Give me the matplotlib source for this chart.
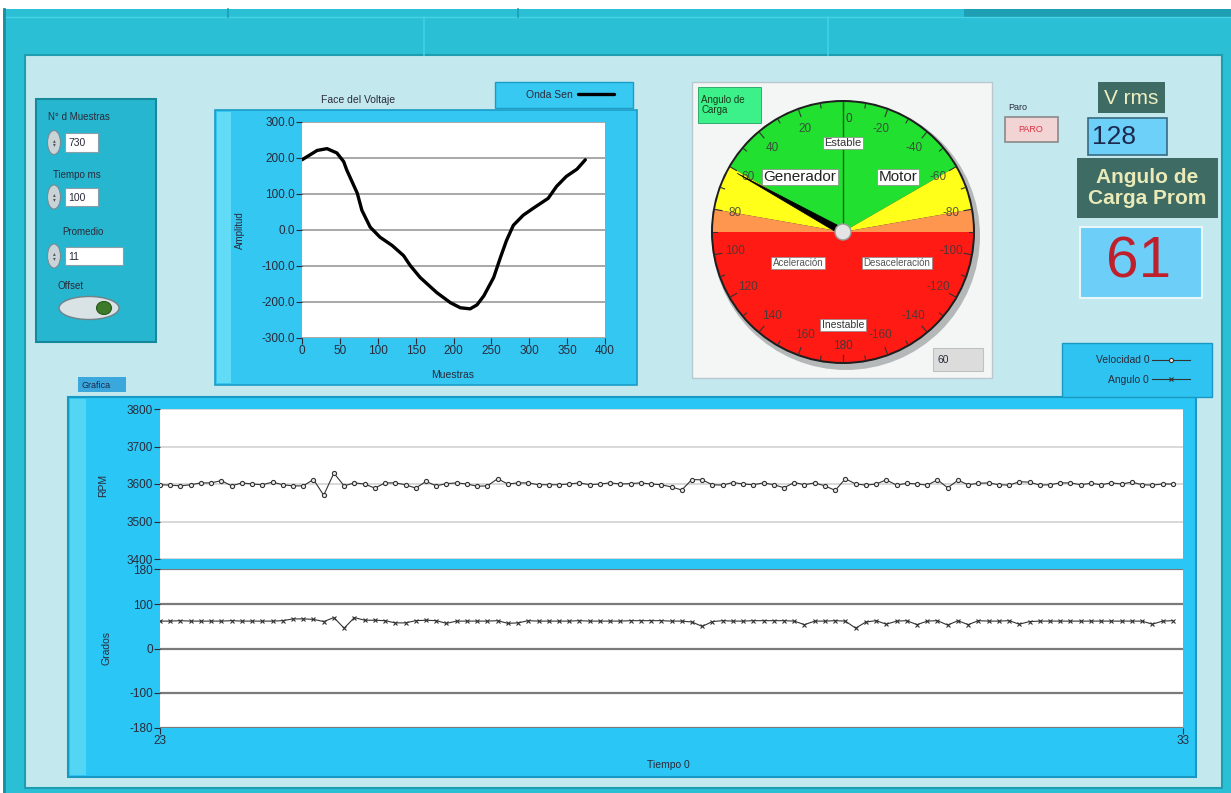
import numpy as np
import matplotlib
matplotlib.use("Agg")
import matplotlib.pyplot as plt
from matplotlib.patches import Rectangle, Wedge, Circle, Ellipse, Polygon

# ==========================================
# DATOS LEIDOS DEL PANEL
# ==========================================
# Fase del voltaje (Onda Sen)
muestras = [0, 20, 33, 46, 55, 59, 73, 79, 90, 103, 119, 134, 143, 156, 178, 196,
            209, 222, 231, 240, 253, 262, 270, 279, 292, 305, 325, 336, 349, 363, 374]
amplitud = [195, 221, 226, 214, 190, 167, 102, 55, 8, -20, -43, -71, -99, -132, -174, -202,
            -216, -219, -208, -183, -132, -76, -29, 13, 41, 60, 88, 121, 149, 169, 195]

# Grafica inferior: velocidad (RPM) y angulo (grados), un punto cada 0.1 s desde t=23
t_inicio = 23
dt = 0.1
velocidad = [3598, 3597, 3595, 3598, 3603, 3603, 3609, 3595, 3603, 3600,
             3598, 3605, 3598, 3595, 3595, 3612, 3570, 3629, 3595, 3603,
             3600, 3589, 3603, 3603, 3598, 3589, 3607, 3595, 3601, 3603,
             3600, 3594, 3595, 3614, 3600, 3603, 3603, 3598, 3598, 3598,
             3600, 3603, 3598, 3600, 3603, 3600, 3601, 3603, 3600, 3598,
             3592, 3584, 3612, 3611, 3598, 3597, 3604, 3600, 3598, 3603,
             3598, 3590, 3604, 3598, 3603, 3595, 3583, 3614, 3600, 3597,
             3600, 3611, 3597, 3602, 3600, 3597, 3611, 3590, 3610, 3598,
             3602, 3603, 3598, 3597, 3606, 3605, 3597, 3598, 3603, 3603,
             3598, 3602, 3598, 3603, 3600, 3605, 3598, 3597, 3600, 3600]
angulo = [62, 62, 63, 62, 62, 62, 62, 63, 62, 62,
          62, 62, 63, 67, 67, 66, 61, 70, 46, 70,
          64, 64, 63, 58, 58, 63, 64, 63, 57, 62,
          62, 62, 62, 63, 57, 58, 63, 62, 62, 62,
          62, 63, 62, 62, 62, 62, 63, 63, 63, 63,
          62, 62, 60, 50, 61, 63, 62, 62, 63, 63,
          63, 63, 62, 54, 62, 62, 63, 62, 46, 60,
          63, 55, 62, 63, 54, 62, 63, 53, 63, 54,
          63, 62, 62, 63, 55, 61, 62, 62, 62, 62,
          62, 62, 62, 62, 62, 62, 62, 55, 62, 63]

# Indicadores
angulo_carga = 61
angulo_display = 60
v_rms = 128
angulo_prom = 61
n_muestras = 730
tiempo_ms = 100
promedio = 11

gauge_izq = [20, 40, 60, 80, 100, 120, 140, 160]
gauge_der = [-20, -40, -60, -80, -100, -120, -140, -160]

# ==========================================
# FIGURA Y FONDO (coordenadas en pixeles)
# ==========================================
W, H = 1231, 793
plt.rcParams['font.family'] = ['Liberation Sans', 'DejaVu Sans']
plt.rcParams['axes.unicode_minus'] = False
NARROW = ['Liberation Sans Narrow', 'Liberation Sans', 'DejaVu Sans']
TXT = '#2a2a3a'

fig = plt.figure(figsize=(W / 100, H / 100), dpi=100)
fig.patch.set_facecolor('white')
bg = fig.add_axes([0, 0, 1, 1])
bg.set_xlim(0, W)
bg.set_ylim(H, 0)
bg.axis('off')


def caja(x0, y0, x1, y1, fc, ec='none', lw=1, z=1):
    bg.add_patch(Rectangle((x0, y0), x1 - x0, y1 - y0, facecolor=fc, edgecolor=ec, linewidth=lw, zorder=z))


def ejes(x0, y0, x1, y1):
    return fig.add_axes([x0 / W, 1 - y1 / H, (x1 - x0) / W, (y1 - y0) / H])


def estilo(ax, size=8):
    for s in ax.spines.values():
        s.set_visible(False)
    ax.tick_params(direction='out', length=4, width=0.8, colors=TXT, labelsize=size, pad=1)
    for lab in ax.get_xticklabels() + ax.get_yticklabels():
        lab.set_family(NARROW)


# marco exterior
caja(3, 9, W, H, '#2bbfd5')
caja(964, 9, W, 17, '#1e9fb3')
bg.plot([3, W], [17, 17], color='#45d4e6', lw=1)
for x in (228, 518):
    bg.plot([x, x], [9, 17], color='#1a9fb3', lw=1.2)
for x in (424, 828):
    bg.plot([x, x], [17, 55], color='#3fd2e4', lw=1.2)
bg.plot([4, 4], [9, H], color='#1a8fa2', lw=2)
caja(25, 55, 1222, 788, '#c3e9ef', '#1e9db0', 1.5)

# ==========================================
# CONTROLES IZQUIERDA
# ==========================================
caja(36, 99, 156, 342, '#27b6cf', '#17889c', 1.5, z=2)
bg.text(48, 117, 'N° d Muestras', fontsize=7, color=TXT, va='center', family=NARROW, zorder=3)
bg.text(53, 175, 'Tiempo ms', fontsize=7, color=TXT, va='center', family=NARROW, zorder=3)
bg.text(62, 232, 'Promedio', fontsize=7, color=TXT, va='center', family=NARROW, zorder=3)
bg.text(58, 286, 'Offset', fontsize=7, color=TXT, va='center', family=NARROW, zorder=3)
for (y0, y1, x1, val) in [(133, 152, 98, n_muestras), (188, 206, 98, tiempo_ms), (247, 265, 123, promedio)]:
    bg.add_patch(Ellipse((54, (y0 + y1) / 2), 13, 24, facecolor='#c8d4d8', edgecolor='#7a8a90', lw=0.8, zorder=3))
    bg.text(54, (y0 + y1) / 2, '▴\n▾', fontsize=4, color='#555555', ha='center', va='center', linespacing=0.9, zorder=4)
    caja(65, y0, x1, y1, 'white', '#8aa0a8', 0.8, z=3)
    bg.text(68, (y0 + y1) / 2 + 1, str(val), fontsize=7.5, color=TXT, va='center', family=NARROW, zorder=4)
bg.add_patch(Ellipse((89, 308), 60, 23, facecolor='#d9e2e4', edgecolor='#6f8288', lw=1, zorder=3))
bg.add_patch(Ellipse((104, 308), 15, 13, facecolor='#3d7a2a', edgecolor='#2a5a1c', lw=0.8, zorder=4))

# ==========================================
# GRAFICA: FASE DEL VOLTAJE
# ==========================================
caja(215, 110, 637, 385, '#33c7f2', '#1a9cc8', 1.2, z=2)
caja(217, 112, 231, 383, '#62dbf7', z=2)
bg.text(358, 100, 'Face del Voltaje', fontsize=7.5, color=TXT, ha='center', va='center', family=NARROW)
bg.text(240, 230, 'Amplitud', fontsize=7, color=TXT, rotation=90, ha='center', va='center', family=NARROW, zorder=3)
bg.text(453, 375, 'Muestras', fontsize=7.5, color=TXT, ha='center', va='center', family=NARROW, zorder=3)

axw = ejes(302, 122, 605, 338)
axw.set_zorder(3)
axw.set_facecolor('white')
wline, = axw.plot(muestras, amplitud, color='black', lw=2.4, solid_joinstyle='round', solid_capstyle='round')
axw.set_xlim(0, 400)
axw.set_ylim(-300, 300)
axw.set_xticks(range(0, 401, 50))
axw.set_yticks(range(-300, 301, 100))
axw.set_yticklabels([f'{v:.1f}' for v in range(-300, 301, 100)])
axw.yaxis.grid(True, color='#9a9a9a', lw=1.2)
axw.set_axisbelow(True)
estilo(axw, 8.5)

# leyenda "Onda Sen"
caja(495, 82, 633, 108, '#38c9f3', '#1a9cc8', 1, z=2)
lw_ = fig.legend([wline], ['Onda Sen'], loc='center right', bbox_to_anchor=(620 / W, 1 - 95 / H),
                 markerfirst=False, frameon=False, fontsize=7.5, handlelength=3.4, borderpad=0.1,
                 handletextpad=0.5, labelcolor=TXT)
for t in lw_.get_texts():
    t.set_family(NARROW)

# ==========================================
# INDICADOR: ANGULO DE CARGA
# ==========================================
caja(692, 82, 992, 378, '#f4f6f6', '#b8c8cc', 1, z=2)
caja(698, 87, 761, 123, '#3cf08a', '#20a060', 0.6, z=3)
bg.text(701, 105, 'Angulo de\nCarga', fontsize=7, color='#1a3a1a', va='center', family=NARROW,
        linespacing=1.1, zorder=4)
caja(933, 348, 983, 371, '#dcdcdc', '#c0c0c0', 0.8, z=3)
bg.text(938, 360, str(angulo_display), fontsize=7.5, color=TXT, va='center', family=NARROW, zorder=4)

axg = ejes(693, 82, 993, 382)
axg.set_zorder(4)
axg.set_xlim(-150, 150)
axg.set_ylim(-150, 150)
axg.axis('off')
R = 130
axg.add_patch(Circle((3, -4), R + 4, facecolor='#8a9090', edgecolor='none', alpha=0.6))
axg.add_patch(Circle((0, 0), R + 2, facecolor='#1e1e1e', edgecolor='none'))
for t1, t2, c in [(30, 150, '#22e030'), (150, 170, '#ffff1a'), (10, 30, '#ffff1a'),
                  (170, 180, '#ff9650'), (0, 10, '#ff9650'), (180, 360, '#ff1a14')]:
    axg.add_patch(Wedge((0, 0), R, t1, t2, facecolor=c, edgecolor='none'))
for v in range(0, 181, 10):
    for a in (90 + v, 90 - v):
        r0 = R - 7 if v % 20 == 0 else R - 4
        ra = np.deg2rad(a)
        axg.plot([r0 * np.cos(ra), R * np.cos(ra)], [r0 * np.sin(ra), R * np.sin(ra)], color='#333333', lw=0.8)
for v, lab in zip(gauge_izq, gauge_izq):
    ra = np.deg2rad(90 + v)
    axg.text(110 * np.cos(ra), 110 * np.sin(ra), str(lab), fontsize=8.5, color='#3a3a3a',
             ha='center', va='center', family=NARROW, alpha=0.85)
for v, lab in zip(gauge_izq, gauge_der):
    ra = np.deg2rad(90 - v)
    axg.text(110 * np.cos(ra), 110 * np.sin(ra), str(lab), fontsize=8.5, color='#3a3a3a',
             ha='center', va='center', family=NARROW, alpha=0.85)
axg.text(3, 113, '0', fontsize=8.5, color='#3a3a3a', ha='left', va='center', family=NARROW)
axg.text(0, -114, '180', fontsize=8.5, color='#3a3a3a', ha='center', va='center', family=NARROW)
axg.plot([0, 0], [0, R], color='#0a6a0a', lw=1)

caja_txt = dict(facecolor='white', edgecolor='#888888', linewidth=0.5, pad=1.0)
axg.text(0, 89, 'Estable', fontsize=8, color='#333333', ha='center', va='center', bbox=caja_txt)
axg.text(-43, 55, 'Generador', fontsize=11, color='#222222', ha='center', va='center', bbox=caja_txt)
axg.text(55, 55, 'Motor', fontsize=11, color='#222222', ha='center', va='center', bbox=caja_txt)
axg.text(-45, -31, 'Aceleración', fontsize=7, color='#555555', ha='center', va='center', bbox=caja_txt, family=NARROW)
axg.text(54, -31, 'Desaceleración', fontsize=7, color='#555555', ha='center', va='center', bbox=caja_txt, family=NARROW)
axg.text(0, -93, 'Inestable', fontsize=7.5, color='#333333', ha='center', va='center', bbox=caja_txt, family=NARROW)

# aguja
th = np.deg2rad(90 + angulo_carga)
px, py = -np.sin(th), np.cos(th)
axg.add_patch(Polygon([(121 * np.cos(th), 121 * np.sin(th)), (3.5 * px, 3.5 * py), (-3.5 * px, -3.5 * py)],
                      closed=True, facecolor='black', edgecolor='black', lw=0.5, zorder=5))
axg.add_patch(Circle((0, 0), 8, facecolor='#e4e4e4', edgecolor='#9a9a9a', lw=1, zorder=6))

# ==========================================
# INDICADORES DERECHA
# ==========================================
bg.text(1008, 108, 'Paro', fontsize=6.5, color=TXT, va='center', family=NARROW)
caja(1005, 117, 1058, 142, '#f2d4d4', '#8a8a8a', 1.2, z=2)
bg.text(1031, 129, 'PARO', fontsize=6.5, color='#e03040', ha='center', va='center', family=NARROW, zorder=3)

caja(1098, 82, 1165, 113, '#3e6b64', z=2)
bg.text(1131, 98, 'V rms', fontsize=15, color='#eeeec0', ha='center', va='center', zorder=3)
caja(1088, 118, 1167, 155, '#6dd0f8', '#3a6a80', 1.2, z=2)
bg.text(1092, 137, str(v_rms), fontsize=19, color='#1c2a50', ha='left', va='center', zorder=3)
caja(1077, 158, 1218, 218, '#3e6b64', z=2)
bg.text(1147, 188, 'Angulo de\nCarga Prom', fontsize=15, fontweight='bold', color='#eaeab8',
        ha='center', va='center', linespacing=1.15, zorder=3)
caja(1080, 227, 1202, 298, '#6dcff7', '#e8f6fa', 1.5, z=2)
bg.text(1139, 263, str(angulo_prom), fontsize=42, color='#c0202c', ha='center', va='center',
        family=NARROW, zorder=3)

# ==========================================
# GRAFICA INFERIOR: VELOCIDAD Y ANGULO
# ==========================================
caja(78, 377, 126, 392, '#3aa8dc', z=2)
bg.text(81, 385, 'Grafica', fontsize=6.5, color='#1a2a4a', va='center', family=NARROW, zorder=3)
caja(68, 397, 1196, 777, '#2ac6f5', '#1a98c4', 1.5, z=2)
caja(70, 399, 86, 775, '#52d6f4', z=2)
caja(1062, 343, 1212, 397, '#2ec3f1', '#1a98c4', 1, z=2)

tiempo = t_inicio + dt * np.arange(len(velocidad))

ax1 = ejes(160, 409, 1183, 559)
ax1.set_zorder(3)
ax1.set_facecolor('white')
l1, = ax1.plot(tiempo, velocidad, color='#333333', lw=0.8, marker='o', ms=3, mfc='#e8e8e8',
               mec='#333333', mew=0.8)
ax1.set_xlim(23, 33)
ax1.set_ylim(3400, 3800)
ax1.set_yticks([3400, 3500, 3600, 3700, 3800])
ax1.set_xticks([])
ax1.yaxis.grid(True, color='#d2d2d2', lw=1.2)
ax1.set_axisbelow(True)
estilo(ax1, 8.5)

ax2 = ejes(160, 569, 1183, 728)
ax2.set_zorder(3)
ax2.set_facecolor('white')
l2, = ax2.plot(tiempo, angulo, color='#333333', lw=0.8, marker='x', ms=3, mec='#333333', mew=0.8)
ax2.set_xlim(23, 33)
ax2.set_ylim(-180, 180)
ax2.set_yticks([-180, -100, 0, 100, 180])
ax2.set_xticks([23, 33])
ax2.yaxis.grid(True, color='#7a7a7a', lw=1.6)
ax2.set_axisbelow(True)
estilo(ax2, 8.5)

bg.text(103, 485, 'RPM', fontsize=7.5, color=TXT, rotation=90, ha='center', va='center', family=NARROW, zorder=3)
bg.text(106, 648, 'Grados', fontsize=7.5, color=TXT, rotation=90, ha='center', va='center', family=NARROW, zorder=3)
bg.text(668, 765, 'Tiempo 0', fontsize=7.5, color=TXT, ha='center', va='center', family=NARROW, zorder=3)

lg = fig.legend([l1, l2], ['Velocidad 0', 'Angulo 0'], loc='center right',
                bbox_to_anchor=(1196 / W, 1 - 370 / H), markerfirst=False, frameon=False,
                fontsize=7.5, handlelength=3.6, borderpad=0.1, labelspacing=0.9, handletextpad=0.3,
                labelcolor=TXT)
for t in lg.get_texts():
    t.set_family(NARROW)

plt.savefig('out.png', dpi=100)
